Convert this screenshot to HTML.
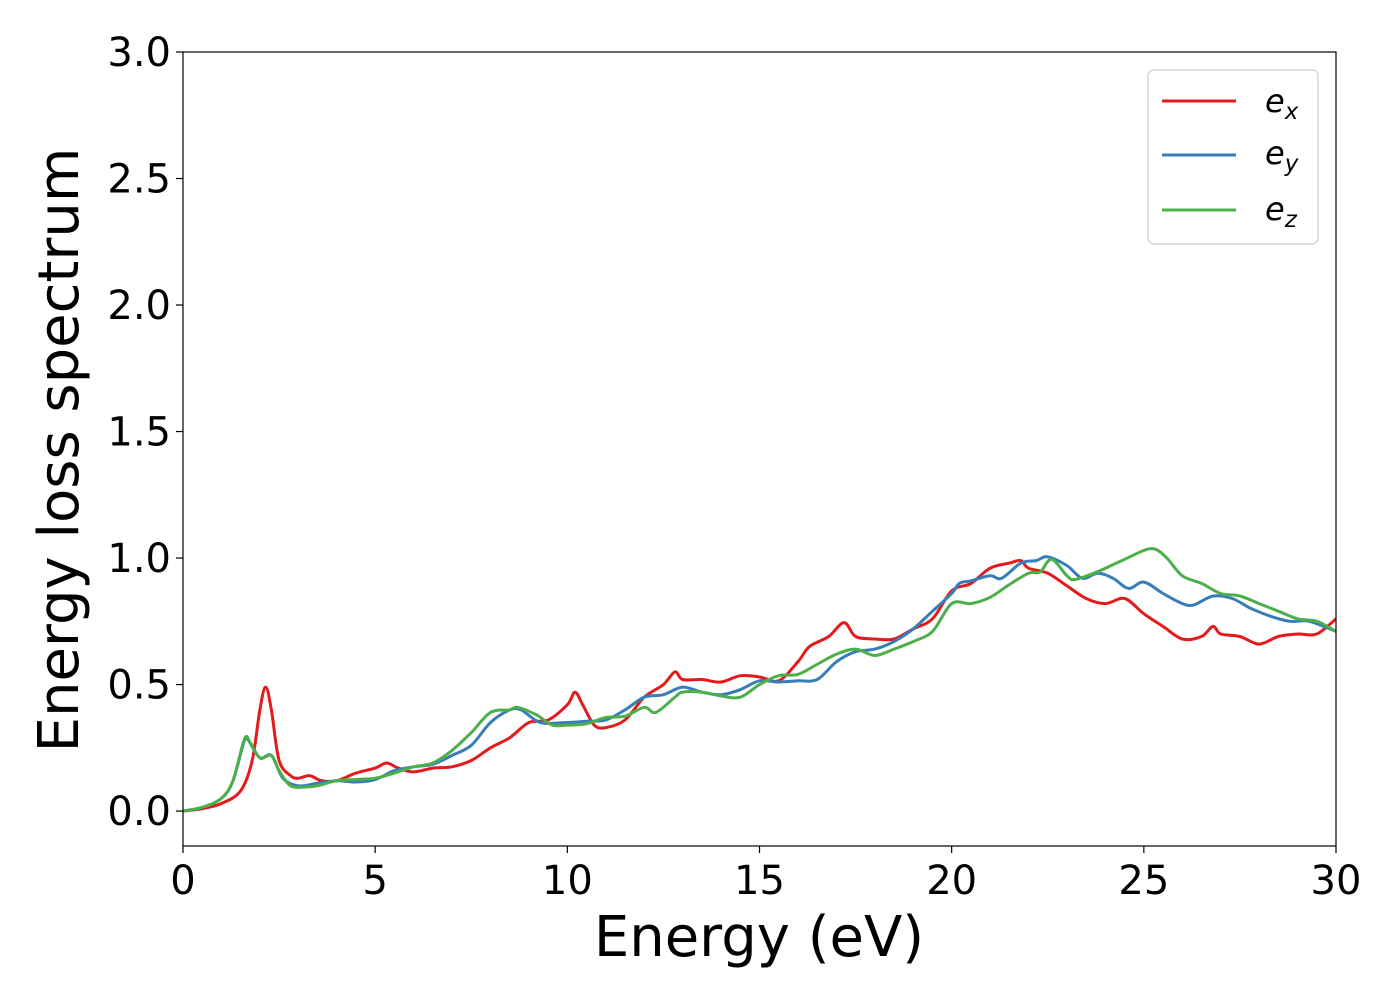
<!DOCTYPE html>
<html><head><meta charset="utf-8"><style>
html,body{margin:0;padding:0;background:#fff;}
svg{display:block;font-family:"DejaVu Sans","Liberation Sans",sans-serif;}
</style></head><body>
<svg id="chart" width="1400" height="1000">
<rect x="0" y="0" width="1400" height="1000" fill="#fff"/>
<g id="plot"></g>
<g id="axes"></g>
<text x="759" y="956" font-size="56" text-anchor="middle">Energy (eV)</text>
<text transform="translate(78,450) rotate(-90)" font-size="56" text-anchor="middle">Energy loss spectrum</text>
<g>
<rect x="1148" y="70" width="170" height="174" rx="6" fill="#fff" stroke="#ccc" stroke-width="1.2"/>
<line x1="1162" y1="101" x2="1236" y2="101" stroke="#e41a1c" stroke-width="3"/>
<text x="1265" y="112" font-size="32" font-style="italic">e<tspan font-size="23" dy="7">x</tspan></text>
<line x1="1162" y1="155" x2="1236" y2="155" stroke="#377eb8" stroke-width="3"/>
<text x="1265" y="164" font-size="32" font-style="italic">e<tspan font-size="23" dy="7">y</tspan></text>
<line x1="1162" y1="210" x2="1236" y2="210" stroke="#4daf4a" stroke-width="3"/>
<text x="1265" y="220" font-size="32" font-style="italic">e<tspan font-size="23" dy="7">z</tspan></text>
</g>
</svg>
<script>
const xTicks=[0,5,10,15,20,25,30];
const yTicks=[0.0,0.5,1.0,1.5,2.0,2.5,3.0];
const yTickLabels=["0.0","0.5","1.0","1.5","2.0","2.5","3.0"];
const exE=[0,0.5,1.0,1.5,1.8,2.0,2.15,2.3,2.5,2.8,3.0,3.3,3.6,4,4.5,5,5.3,5.6,6,6.5,7,7.5,8,8.5,9,9.5,10,10.2,10.4,10.7,11,11.5,12,12.5,12.8,13,13.5,14,14.5,15,15.5,16,16.3,16.8,17.2,17.5,18,18.5,19,19.5,20,20.5,21,21.5,21.8,22,22.5,23,23.5,24,24.5,25,25.5,26,26.5,26.8,27,27.5,28,28.5,29,29.5,30];
const exV=[0,0.01,0.03,0.08,0.2,0.4,0.49,0.4,0.2,0.14,0.13,0.14,0.12,0.12,0.15,0.17,0.19,0.17,0.155,0.17,0.175,0.2,0.25,0.29,0.35,0.36,0.42,0.47,0.42,0.34,0.33,0.36,0.45,0.5,0.55,0.52,0.52,0.51,0.535,0.53,0.515,0.59,0.65,0.69,0.745,0.69,0.68,0.68,0.72,0.76,0.87,0.9,0.96,0.98,0.99,0.96,0.94,0.89,0.84,0.82,0.84,0.78,0.73,0.68,0.69,0.73,0.70,0.69,0.66,0.69,0.70,0.70,0.76];
const eyE=[0,0.5,1.0,1.3,1.6,1.7,2,2.3,2.6,3,3.5,4,4.5,5,5.5,6,6.5,7,7.5,8,8.5,8.8,9.3,10,10.5,11,11.5,12,12.5,13,13.5,14,14.5,15,15.5,16,16.5,17,17.5,18,18.5,19,19.5,20,20.2,20.5,21,21.3,21.8,22.2,22.5,23,23.4,23.8,24.2,24.6,25,25.5,26,26.3,26.8,27.3,27.8,28.3,28.8,29.3,30];
const eyV=[0,0.015,0.05,0.12,0.28,0.28,0.21,0.22,0.13,0.1,0.11,0.12,0.115,0.125,0.16,0.175,0.185,0.22,0.26,0.35,0.4,0.4,0.35,0.35,0.355,0.36,0.4,0.45,0.46,0.49,0.47,0.46,0.48,0.515,0.51,0.515,0.52,0.59,0.63,0.64,0.67,0.72,0.79,0.86,0.9,0.91,0.93,0.92,0.98,0.99,1.005,0.97,0.92,0.94,0.92,0.88,0.905,0.86,0.82,0.815,0.85,0.84,0.8,0.77,0.75,0.75,0.71];
const ezE=[0,0.5,1,1.3,1.6,1.75,2,2.3,2.5,2.8,3.2,3.5,4,4.5,5,5.5,6,6.5,7,7.5,8,8.5,8.7,9.2,9.6,10,10.5,11,11.5,12,12.3,12.8,13,13.5,14,14.5,15,15.5,16,16.5,17,17.5,18,18.5,19,19.5,20,20.5,21,21.5,22,22.3,22.6,23,23.2,23.7,24,24.5,25,25.3,25.6,26,26.5,27,27.5,28,28.5,29,29.5,30];
const ezV=[0,0.015,0.05,0.12,0.285,0.27,0.21,0.22,0.16,0.1,0.095,0.1,0.12,0.125,0.13,0.15,0.175,0.19,0.24,0.31,0.39,0.40,0.41,0.38,0.34,0.34,0.345,0.37,0.375,0.41,0.39,0.45,0.47,0.47,0.455,0.45,0.5,0.535,0.54,0.58,0.62,0.64,0.615,0.64,0.67,0.71,0.82,0.82,0.845,0.895,0.94,0.945,0.995,0.93,0.915,0.94,0.96,0.995,1.03,1.035,1.0,0.93,0.9,0.86,0.85,0.82,0.79,0.76,0.75,0.71];
const NS="http://www.w3.org/2000/svg";
const X0=183,X1=1336,Y0=52,Y1=846,xMin=0,xMax=30,yMin=-0.138,yMax=3.0;
function sx(v){return X0+(v-xMin)/(xMax-xMin)*(X1-X0);}
function sy(v){return Y1-(v-yMin)/(yMax-yMin)*(Y1-Y0);}
function mk(t,a,p){const e=document.createElementNS(NS,t);for(const k in a)e.setAttribute(k,a[k]);p.appendChild(e);return e;}
const plot=document.getElementById('plot'),axes=document.getElementById('axes');
function path(E,V){
 const p=E.map((e,i)=>[sx(e),sy(V[i])]);
 let d="M"+p[0][0].toFixed(1)+","+p[0][1].toFixed(1);
 for(let i=0;i<p.length-1;i++){
  const a=p[Math.max(0,i-1)],b=p[i],c=p[i+1],n=p[Math.min(p.length-1,i+2)];
  const c1=[b[0]+(c[0]-a[0])/6,b[1]+(c[1]-a[1])/6],c2=[c[0]-(n[0]-b[0])/6,c[1]-(n[1]-b[1])/6];
  d+="C"+c1[0].toFixed(1)+","+c1[1].toFixed(1)+" "+c2[0].toFixed(1)+","+c2[1].toFixed(1)+" "+c[0].toFixed(1)+","+c[1].toFixed(1);
 }
 return d;
}
const cp=mk('clipPath',{id:'clip'},plot);mk('rect',{x:X0,y:Y0,width:X1-X0,height:Y1-Y0},cp);
const g=mk('g',{'clip-path':'url(#clip)'},plot);
const l1=mk('path',{d:path(exE,exV),fill:'none',stroke:'#e41a1c','stroke-width':3},g);


const l2=mk('path',{d:path(eyE,eyV),fill:'none',stroke:'#377eb8','stroke-width':3},g);


const l3=mk('path',{d:path(ezE,ezV),fill:'none',stroke:'#4daf4a','stroke-width':3},g);


const fr=mk('rect',{x:X0,y:Y0,width:X1-X0,height:Y1-Y0,fill:'none',stroke:'#000','stroke-width':1.2},axes);


xTicks.forEach(t=>{
 const x=sx(t);
 const tk=mk('line',{x1:x,y1:Y1,x2:x,y2:Y1+7,stroke:'#000','stroke-width':1.2},axes);
 
 
 const tl=mk('text',{x:x,y:Y1+48,'font-size':40,'text-anchor':'middle'},axes);
 tl.textContent=String(t);
 
 
});
yTicks.forEach((t,i)=>{
 const y=sy(t);
 const tk=mk('line',{x1:X0-7,y1:y,x2:X0,y2:y,stroke:'#000','stroke-width':1.2},axes);
 
 
 const tl=mk('text',{x:X0-12,y:y+14,'font-size':40,'text-anchor':'end'},axes);
 tl.textContent=yTickLabels[i];
 
 
});
</script>
</body></html>
